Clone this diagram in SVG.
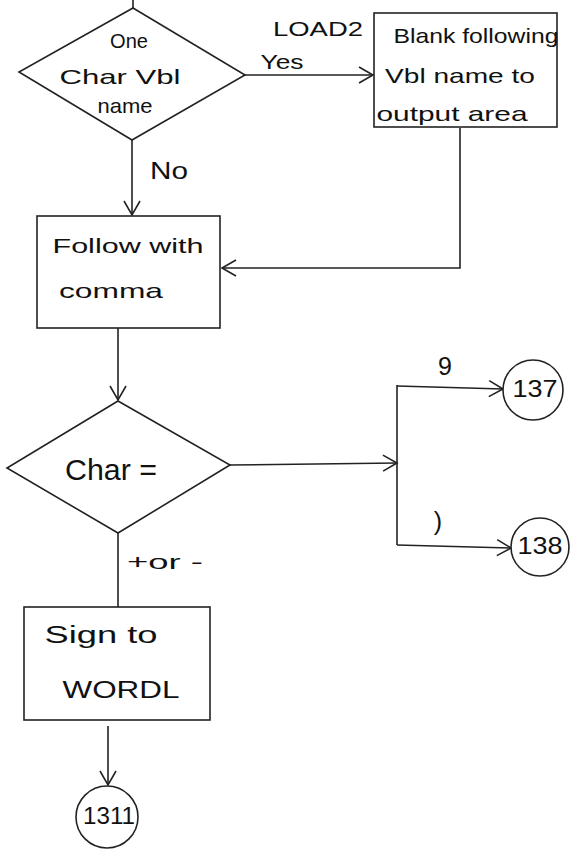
<svg xmlns="http://www.w3.org/2000/svg" width="572" height="856" viewBox="0 0 572 856">
<style>
.s{fill:none;stroke:#222;stroke-width:1.6}
.n{fill:#fff;stroke:#222;stroke-width:1.6}
text{font-family:"Liberation Sans","DejaVu Sans",sans-serif;fill:#111;text-anchor:middle;dominant-baseline:middle}
.t{font-size:21px}
.big{font-size:30px}
.c{font-size:23px}
.l{font-size:25px}
</style>
<defs>
<marker id="ar" markerUnits="userSpaceOnUse" markerWidth="20" markerHeight="20" viewBox="-16 -10 20 20" refX="0" refY="0" orient="auto">
<path d="M -14 -8 L 0 0 L -14 8" fill="none" stroke="#222" stroke-width="1.6"/>
</marker>
</defs>
<rect width="572" height="856" fill="#fff"/>
<g id="connectors">
<line class="s" x1="133" y1="0" x2="133" y2="8"/>
<line class="s" x1="245" y1="75" x2="373" y2="75" marker-end="url(#ar)"/>
<polyline class="s" points="460,128 460,268 222,268" marker-end="url(#ar)"/>
<line class="s" x1="132" y1="140" x2="132" y2="215" marker-end="url(#ar)"/>
<line class="s" x1="118" y1="328" x2="118" y2="400" marker-end="url(#ar)"/>
<line class="s" x1="230" y1="465" x2="397" y2="463" marker-end="url(#ar)"/>
<polyline class="s" points="397,385 397,545"/>
<line class="s" x1="397" y1="386" x2="503" y2="389" marker-end="url(#ar)"/>
<line class="s" x1="397" y1="545" x2="511" y2="548" marker-end="url(#ar)"/>
<line class="s" x1="118" y1="533" x2="118" y2="607"/>
<line class="s" x1="108" y1="726" x2="108" y2="785" marker-end="url(#ar)"/>
<text class="t" x="318" y="30" textLength="90" lengthAdjust="spacingAndGlyphs">LOAD2</text>
<text class="t" x="282" y="63" textLength="43" lengthAdjust="spacingAndGlyphs">Yes</text>
<text class="c" x="169" y="173" textLength="38" lengthAdjust="spacingAndGlyphs">No</text>
<text class="l" x="445" y="368">9</text>
<text class="l" x="438" y="523">)</text>
<text class="t" x="165" y="563" textLength="76" lengthAdjust="spacingAndGlyphs">+or -</text>
</g>
<g id="decision1">
<polygon class="n" points="133,8 245,75 132,140 19,72"/>
<text class="t" x="129" y="42" textLength="38" lengthAdjust="spacingAndGlyphs">One</text>
<text class="t" x="120" y="78" textLength="121" lengthAdjust="spacingAndGlyphs">Char Vbl</text>
<text class="t" x="125" y="107" textLength="55" lengthAdjust="spacingAndGlyphs">name</text>
</g>
<g id="blank">
<rect class="n" x="374" y="13" width="183" height="114"/>
<text class="t" x="476" y="37" textLength="165" lengthAdjust="spacingAndGlyphs">Blank following</text>
<text class="t" x="460" y="77" textLength="150" lengthAdjust="spacingAndGlyphs">Vbl name to</text>
<text class="t" x="452" y="115" textLength="151" lengthAdjust="spacingAndGlyphs">output area</text>
</g>
<g id="comma">
<rect class="n" x="37" y="216" width="183" height="112"/>
<text class="t" x="128" y="247" textLength="151" lengthAdjust="spacingAndGlyphs">Follow with</text>
<text class="t" x="111" y="292" textLength="104" lengthAdjust="spacingAndGlyphs">comma</text>
</g>
<g id="decision2">
<polygon class="n" points="118,401 230,465 118,533 7,468"/>
<text class="big" x="111" y="472" textLength="92" lengthAdjust="spacingAndGlyphs">Char =</text>
</g>
<g id="c137">
<circle class="n" cx="533" cy="390" r="30"/>
<text class="c" x="535" y="391" textLength="45" lengthAdjust="spacingAndGlyphs">137</text>
</g>
<g id="c138">
<circle class="n" cx="540" cy="547" r="29"/>
<text class="c" x="540" y="548" textLength="45" lengthAdjust="spacingAndGlyphs">138</text>
</g>
<g id="sign">
<rect class="n" x="24" y="607" width="186" height="113"/>
<text class="c" x="101" y="637" textLength="113" lengthAdjust="spacingAndGlyphs">Sign to</text>
<text class="c" x="121" y="692" textLength="117" lengthAdjust="spacingAndGlyphs">WORDL</text>
</g>
<g id="c1311">
<circle class="n" cx="107" cy="817" r="31"/>
<text class="c" x="109" y="818" textLength="52" lengthAdjust="spacingAndGlyphs">1311</text>
</g>
</svg>
